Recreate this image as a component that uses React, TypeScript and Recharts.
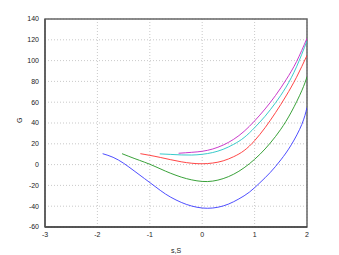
import React from 'react';
import { LineChart, Line, XAxis, YAxis, CartesianGrid, Label, ReferenceArea } from 'recharts';

const xTicks = [-3, -2, -1, 0, 1, 2];
const yTicks = [-60, -40, -20, 0, 20, 40, 60, 80, 100, 120, 140];

const blueS = [-1.9, -1.7, -1.5, -1.3, -1.1, -0.9, -0.7, -0.5, -0.3, -0.1, 0.1, 0.3, 0.5, 0.7, 0.9, 1.1, 1.3, 1.5, 1.7, 1.9, 2.0];
const blueG = [10.5, 7, 1.3, -6, -13.5, -21, -28.3, -34, -38.3, -41, -42, -41, -38, -33, -26.5, -17.5, -7.5, 4.5, 19, 38.5, 55];

const greenS = [-1.53, -1.3, -1.1, -0.9, -0.7, -0.5, -0.3, -0.1, 0.1, 0.3, 0.5, 0.7, 0.9, 1.1, 1.3, 1.5, 1.7, 1.9, 2.0];
const greenG = [10.5, 6, 2.3, -1.8, -6.3, -10.3, -13.5, -15.6, -16.3, -14.9, -11.6, -6.4, 0.8, 9.8, 20.8, 34, 50.5, 71, 84.5];

const redS = [-1.18, -1.0, -0.8, -0.6, -0.4, -0.2, 0, 0.2, 0.4, 0.6, 0.8, 1.0, 1.2, 1.4, 1.6, 1.8, 2.0];
const redG = [10.5, 8.9, 6.9, 4.7, 2.7, 1.3, 0.8, 1.5, 3.6, 7.6, 13.5, 23, 35.5, 50, 66, 84, 105];

const cyanS = [-0.81, -0.6, -0.4, -0.2, 0, 0.2, 0.4, 0.6, 0.8, 1.0, 1.2, 1.4, 1.6, 1.8, 2.0];
const cyanG = [10.3, 9.8, 9.3, 9.2, 9.9, 11.6, 14.7, 19.5, 26, 35.5, 46.5, 59.5, 74.5, 94, 119];

const magentaS = [-0.45, -0.2, 0, 0.2, 0.4, 0.6, 0.8, 1.0, 1.2, 1.4, 1.6, 1.8, 2.0];
const magentaG = [10.9, 11.8, 12.8, 15, 18.8, 24.3, 32, 42, 53.5, 66.5, 81.5, 99, 121.5];

const series = [
  { key: 'blue', color: '#3a3aff', s: blueS, g: blueG },
  { key: 'green', color: '#229622', s: greenS, g: greenG },
  { key: 'red', color: '#ff3030', s: redS, g: redG },
  { key: 'cyan', color: '#22c4c4', s: cyanS, g: cyanG },
  { key: 'magenta', color: '#c426c4', s: magentaS, g: magentaG },
];

const toPoints = (s: number[], g: number[]) => s.map((x, i) => ({ x, y: g[i] }));

const font = { fontFamily: 'Liberation Sans, Arial, sans-serif', fontSize: 7, fill: '#222' };

export default function App() {
  return (
    <div style={{ position: 'absolute', left: 0, top: 0, width: 339, height: 255, background: '#fff' }}>
      <LineChart width={339} height={255} margin={{ top: 19, right: 32, left: 5, bottom: 0 }}>
        <CartesianGrid stroke="#bbb" strokeDasharray="1 2" strokeWidth={0.8} />
        <XAxis
          type="number"
          dataKey="x"
          domain={[-3, 2]}
          ticks={xTicks}
          allowDataOverflow
          height={28}
          tickLine={false}
          tickSize={0}
          tickMargin={5}
          axisLine={{ stroke: '#222', strokeWidth: 1.2 }}
          tick={font}
          interval={0}
        >
          <Label value="s,S" position="insideBottom" offset={2} style={font} />
        </XAxis>
        <YAxis
          type="number"
          domain={[-60, 140]}
          ticks={yTicks}
          allowDataOverflow
          width={40}
          tickLine={false}
          tickSize={0}
          tickMargin={6}
          axisLine={{ stroke: '#555', strokeWidth: 1.5 }}
          tick={font}
          interval={0}
        >
          <Label value="G" angle={-90} position="insideLeft" offset={15} style={font} />
        </YAxis>
        <ReferenceArea x1={-3} x2={2} y1={-60} y2={140} fill="none" stroke="#666" strokeWidth={1.5} />
        {series.map((sr) => (
          <Line
            key={sr.key}
            data={toPoints(sr.s, sr.g)}
            dataKey="y"
            type="natural"
            stroke={sr.color}
            strokeWidth={0.9}
            dot={false}
            isAnimationActive={false}
          />
        ))}
      </LineChart>
    </div>
  );
}
